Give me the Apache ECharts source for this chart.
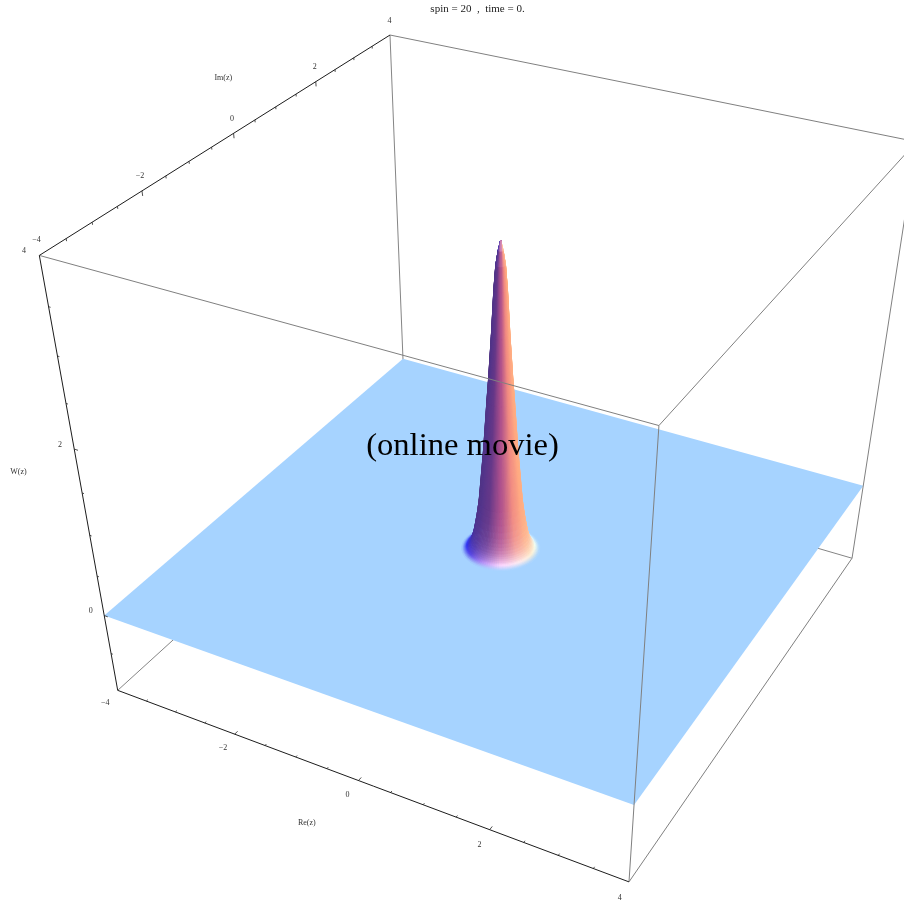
<!DOCTYPE html>
<html><head><meta charset="utf-8"><style>html,body{margin:0;background:#fff}#c{width:904px;height:902px}</style></head><body><div id="c"></div>
<script src="https://cdn.jsdelivr.net/npm/echarts@6/dist/echarts.min.js"></script>
<script>
// ---- values ----
const titleText = 'spin = 20  ,  time = 0.';
const overlayText = '(online movie)';
const reTicks = [-4,-2,0,2,4];
const imTicks = [-4,-2,0,2,4];
const wTicks = [0,2,4];
const reMinor = [-3.5,-3,-2.5,-1.5,-1,-0.5,0.5,1,1.5,2.5,3,3.5];
const imMinor = [-3.5,-3,-2.5,-1.5,-1,-0.5,0.5,1,1.5,2.5,3,3.5];
const wMinor = [-0.5,0.5,1,1.5,2.5,3,3.5];
const wBottom = -1, wTop = 4, lo = -4, hi = 4;
// radial profile of the peak: radius, W(z), shade stage (0 tower, 1 flare, 2 sheet)
const peakRadius = [0,.031,.062,.088,.122,.163,.185,.236,.303,.316,.33,.346,.362,.374,.385,.397,.41,.422,.435,.447,.46,.47,.48,.49,.5,.512,.525,.54,.56];
const peakHeight = [3.55,3.45,3.3,3.04,2.55,2.05,1.82,1.23,.61,.53,.45,.37,.295,.245,.2,.165,.13,.105,.085,.065,.05,.04,.03,.024,.018,.013,.008,.004,0];
const peakShade  = [.5,.2,0,0,0,0,0,0,.02,.03,.05,.08,.13,.18,.24,.31,.4,.5,.6,.7,.8,.9,1,1.12,1.28,1.45,1.62,1.82,2];
const towerAngles = [-180,-90,-60,-30,0,30,60,90,180];
const towerColors = ['#503584','#503584','#54358a','#663888','#ae508c','#f08a82','#ffa882','#ffb084','#ffb084'];
const flareAngles = [-180,-120,-90,-60,-30,0,30,60,90,120,180];
const flareColors = ['#8fb0ff','#4a55f5','#3030f0','#5a48e4','#b890f5','#ffd8ff','#ffecf0','#fff0d4','#f6fff0','#d8f0ff','#a8d4ff'];
const sheetColor = '#a6d3ff';
// perspective camera of the box (x, y, W, 1) -> screen
const camera = [[54.6334,45.6642,-16.8172,500.7606],[11.6756,-21.7516,-94.5657,547.6865],[-0.013603,0.024802,-0.033517,1]];
// ---- helpers ----
function project(x,y,z){const c=camera,w=c[2][0]*x+c[2][1]*y+c[2][2]*z+1;
  return [(c[0][0]*x+c[0][1]*y+c[0][2]*z+c[0][3])/w,(c[1][0]*x+c[1][1]*y+c[1][2]*z+c[1][3])/w];}
function hex(c){return [1,3,5].map(i=>parseInt(c.substr(i,2),16));}
function ramp(angles,colors,a){let i=0;while(i<angles.length-2&&a>angles[i+1])i++;
  const t=(a-angles[i])/(angles[i+1]-angles[i]),p=hex(colors[i]),q=hex(colors[i+1]);return p.map((v,k)=>v+(q[k]-v)*t);}
function mix(p,q,t){return p.map((v,k)=>v+(q[k]-v)*t);}
function shadeColor(phi,s){const T=ramp(towerAngles,towerColors,phi),F=ramp(flareAngles,flareColors,phi),P=hex(sheetColor);
  const c=s<=1?mix(T,F,s):mix(F,P,s-1);return 'rgb('+c.map(v=>Math.round(v)).join(',')+')';}
function viewAngle(th){const o=project(0,0,0),p=project(Math.cos(th),Math.sin(th),0);
  return Math.atan2((p[0]-o[0])/70,(p[1]-o[1])/40)*180/Math.PI;}
// edges: [x1,y1,z1,x2,y2,z2]
const backEdges=[[lo,lo,wBottom,lo,hi,wBottom],[lo,hi,wBottom,hi,hi,wBottom],[lo,hi,wBottom,lo,hi,wTop]];
const frameEdges=[[lo,lo,wTop,hi,lo,wTop],[hi,lo,wTop,hi,hi,wTop],[lo,hi,wTop,hi,hi,wTop],[hi,hi,wTop,hi,hi,wBottom],[hi,lo,wTop,hi,lo,wBottom],[hi,lo,wBottom,hi,hi,wBottom]];
const axisEdges=[[lo,lo,wBottom,hi,lo,wBottom],[lo,lo,wTop,lo,hi,wTop],[lo,lo,wBottom,lo,lo,wTop]];
const tickSegs=[];
reTicks.slice(1,-1).forEach(v=>tickSegs.push([v,lo,wBottom,v,lo+.07,wBottom]));
reMinor.forEach(v=>tickSegs.push([v,lo,wBottom,v,lo+.035,wBottom]));
imTicks.slice(1,-1).forEach(v=>tickSegs.push([lo,v,wTop,lo,v,wTop-.05]));
imMinor.forEach(v=>tickSegs.push([lo,v,wTop,lo,v,wTop-.025]));
wTicks.slice(0,-1).forEach(v=>tickSegs.push([lo,lo,v,lo+.06,lo,v]));
wMinor.forEach(v=>tickSegs.push([lo,lo,v,lo+.03,lo,v]));
// labels: [x,y,z,text,fontSize]
const fmt=v=>v<0?'\u2212'+(-v):String(v);
const labels=[];
reTicks.forEach(v=>labels.push([v+.02,lo-.31,wBottom,fmt(v),8]));
imTicks.forEach(v=>labels.push([lo,v,wTop+.15,fmt(v),8]));
wTicks.forEach(v=>labels.push([lo-.23,lo,v,fmt(v),8]));
labels.push([-.155,lo-1.03,wBottom,'Re(z)',8],[lo,-.1,wTop+.58,'Im(z)',8],[lo-1.05,lo,1.5,'W(z)',8]);
// surface cells
const nAz=96,cells=[];
for(let a=0;a<nAz;a++){const th=(a+.5)/nAz*2*Math.PI,phi=viewAngle(th);
  for(let r=0;r<peakRadius.length-1;r++)cells.push({a,r,phi});}
cells.sort((p,q)=>Math.abs(q.phi)-Math.abs(p.phi)||q.r-p.r);
const cellData=cells.map(c=>[c.a,c.r,c.phi]);
const seg=(color,w)=>(params,api)=>{const a=api.coord(project(api.value(0),api.value(1),api.value(2))),b=api.coord(project(api.value(3),api.value(4),api.value(5)));
  return {type:'line',shape:{x1:a[0],y1:a[1],x2:b[0],y2:b[1]},style:{stroke:color,lineWidth:w,fill:null}};};
const lineSeries=(data,color,w)=>({type:'custom',coordinateSystem:'cartesian2d',silent:true,animation:false,clip:false,data,renderItem:seg(color,w)});
const sheetData=[[lo,lo],[hi,lo],[hi,hi],[lo,hi]];
const chart=echarts.init(document.getElementById('c'),null,{renderer:'canvas'});
chart.setOption({animation:false,backgroundColor:'#fff',
 title:{text:titleText,left:477.5,top:4,textAlign:'center',textStyle:{fontFamily:'Liberation Serif',fontSize:11,fontWeight:'normal',color:'#222'},padding:0},
 grid:{left:0,top:0,width:904,height:902,containLabel:false},
 xAxis:{type:'value',min:0,max:904,show:false},yAxis:{type:'value',min:0,max:902,inverse:true,show:false},
 series:[
  lineSeries(backEdges,'#858585',1),
  {type:'custom',coordinateSystem:'cartesian2d',silent:true,animation:false,clip:false,data:[0],
   renderItem:(p,api)=>({type:'polygon',shape:{points:sheetData.map(c=>api.coord(project(c[0],c[1],0)))},style:{fill:sheetColor}})},
  {type:'custom',coordinateSystem:'cartesian2d',silent:true,animation:false,clip:false,data:cellData,progressive:0,
   renderItem:(p,api)=>{const a=api.value(0),r=api.value(1),phi=api.value(2);
    const t0=a/nAz*2*Math.PI,t1=(a+1.25)/nAz*2*Math.PI,r0=peakRadius[r],r1=peakRadius[r+1],z0=peakHeight[r],z1=peakHeight[r+1];
    const pts=[[r0,t0,z0],[r0,t1,z0],[r1,t1,z1],[r1,t0,z1]].map(q=>api.coord(project(q[0]*Math.cos(q[1]),q[0]*Math.sin(q[1]),q[2])));
    const col=shadeColor(phi,(peakShade[r]+peakShade[r+1])/2);
    return {type:'polygon',shape:{points:pts},style:{fill:col,stroke:col,lineWidth:.5}};}},
  lineSeries(frameEdges,'#808080',1),
  lineSeries(axisEdges,'#1c1c1c',1),
  lineSeries(tickSegs,'#222',.8),
  {type:'custom',coordinateSystem:'cartesian2d',silent:true,animation:false,clip:false,data:labels,dimensions:['x','y','z',{name:'t',type:'ordinal'},'s'],
   renderItem:(p,api)=>{const c=api.coord(project(labels[p.dataIndex][0],labels[p.dataIndex][1],labels[p.dataIndex][2]));
    return {type:'text',x:c[0],y:c[1],style:{text:labels[p.dataIndex][3],font:labels[p.dataIndex][4]+'px "Liberation Serif"',fill:'#333',align:'center',verticalAlign:'middle'}};}},
  {type:'custom',coordinateSystem:'cartesian2d',silent:true,animation:false,clip:false,data:[0],
   renderItem:(p,api)=>{const c=api.coord([462.5,446]);
    return {type:'text',x:c[0],y:c[1],z2:10,style:{text:overlayText,font:'32.6px "Liberation Serif"',fill:'#000',align:'center',verticalAlign:'middle'}};}}
 ]});
</script></body></html>
